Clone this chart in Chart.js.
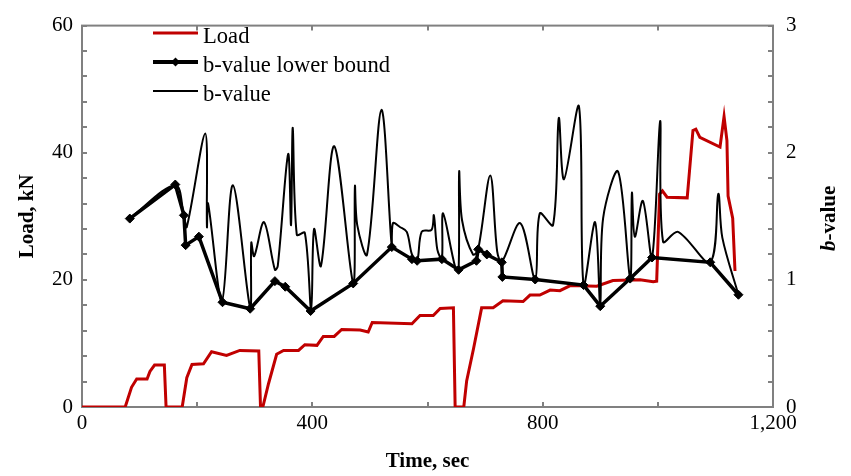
<!DOCTYPE html>
<html>
<head>
<meta charset="utf-8">
<script src="https://cdn.jsdelivr.net/npm/chart.js@4"></script>
<style>
  html, body { margin: 0; padding: 0; background: #fff; }
  canvas { display: block; }
</style>
</head>
<body>
<canvas id="c" width="851" height="476"></canvas>
<script>
// ---- Data ----
const loadTime = [0,75,86,95,113,118,126,143,146,174,182,191,211,225,251,274,307,310,314,324,338,350,376,387,408,419,438,451,483,497,504,573,587,610,622,645,648,663,668,680,694,714,731,766,778,795,813,830,848,894,922,969,992,998,1003,1008,1016,1051,1061,1066,1073,1108,1115,1120,1122,1130,1134];
const loadKN   = [0,0,3.1,4.4,4.4,5.6,6.6,6.6,0,0,4.6,6.7,6.8,8.7,8.1,8.9,8.8,0,0,3.7,8.3,8.9,8.9,9.8,9.7,11.1,11.1,12.2,12.1,11.8,13.3,13.1,14.4,14.4,15.5,15.6,0,0,4.1,9.2,15.6,15.6,16.7,16.6,17.6,17.6,18.4,18.3,19.1,19.0,19.9,20,19.7,19.8,33.5,34,33,32.9,43.5,43.7,42.4,40.9,45.7,41.9,33.2,29.7,21.4];

const bTime  = [83,162,177,182,214,217,219,243,262,292,294,299,316,335,340,358,363,366,373,387,398,403,415,438,471,474,478,495,520,538,540,552,564,573,582,590,607,611,617,625,627,648,654,655,660,679,688,709,721,729,761,787,795,818,828,837,863,871,891,900,905,931,952,955,960,974,990,1004,1009,1035,1091,1105,1112,1140];
const bValue = [1.485,1.745,1.508,1.416,2.151,1.416,1.6,0.834,1.745,0.781,1.293,1.186,1.454,1.079,1.11,1.99,1.431,2.196,1.355,1.37,0.765,1.4,1.11,2.051,0.972,1.737,1.431,1.2,2.337,1.257,1.446,1.416,1.378,1.2,1.15,1.38,1.393,1.508,1.24,1.163,1.523,1.102,1.079,1.852,1.469,1.2,1.24,1.821,1.224,1.14,1.446,1.003,1.523,1.431,2.273,1.791,2.365,0.959,1.454,0.794,1.485,1.852,1.01,1.684,1.339,1.622,1.176,2.25,1.301,1.378,1.138,1.676,1.332,0.882];

const lbTime  = [83,162,177,180,203,244,292,335,353,397,471,538,573,582,625,654,685,688,703,729,730,787,871,900,952,990,1091,1140];
const lbValue = [1.482,1.75,1.508,1.273,1.34,0.824,0.773,0.99,0.946,0.755,0.972,1.258,1.163,1.15,1.163,1.079,1.15,1.24,1.2,1.138,1.023,1.003,0.959,0.793,1.01,1.176,1.138,0.883];

const seriesLabels = ['Load', 'b-value lower bound', 'b-value'];
const xTitle = 'Time, sec';
const yTitle = 'Load, kN';
const y1TitleItalic = 'b';
const y1TitleRest = '-value';

// ---- Helpers ----
const pairs = (xs, ys) => xs.map((x, i) => ({ x: x, y: ys[i] }));
const SERIF = "'Liberation Serif', 'Times New Roman', serif";
const RED = '#c00000';
const GRAY = '#808080';

const framePlugin = {
  id: 'frameTicks',
  beforeDatasetsDraw(chart) {
    const { ctx, chartArea: a, scales } = chart;
    ctx.save();
    ctx.strokeStyle = GRAY;
    ctx.lineWidth = 2;
    ctx.strokeRect(a.left, a.top, a.right - a.left, a.bottom - a.top);
    const L = 5;
    ctx.beginPath();
    scales.x.ticks.forEach(t => {
      const px = Math.round(scales.x.getPixelForValue(t.value));
      ctx.moveTo(px, a.bottom); ctx.lineTo(px, a.bottom - L);
      ctx.moveTo(px, a.top); ctx.lineTo(px, a.top + L);
    });
    scales.y.ticks.forEach(t => {
      const py = Math.round(scales.y.getPixelForValue(t.value));
      ctx.moveTo(a.left, py); ctx.lineTo(a.left + L, py);
    });
    scales.y1.ticks.forEach(t => {
      const py = Math.round(scales.y1.getPixelForValue(t.value));
      ctx.moveTo(a.right, py); ctx.lineTo(a.right - L, py);
    });
    ctx.stroke();
    ctx.restore();
  }
};

const titlesPlugin = {
  id: 'axisTitles',
  afterDraw(chart) {
    const { ctx, chartArea: a } = chart;
    ctx.save();
    ctx.fillStyle = '#000';
    ctx.font = "bold 21px " + SERIF;
    ctx.textAlign = 'center';
    ctx.textBaseline = 'middle';
    ctx.fillText(xTitle, (a.left + a.right) / 2, 462);
    ctx.save();
    ctx.translate(28, (a.top + a.bottom) / 2);
    ctx.rotate(-Math.PI / 2);
    ctx.fillText(yTitle, 0, 0);
    ctx.restore();
    ctx.save();
    ctx.translate(830, (a.top + a.bottom) / 2 + 2);
    ctx.rotate(-Math.PI / 2);
    ctx.font = "italic bold 21px " + SERIF;
    const w1 = ctx.measureText(y1TitleItalic).width;
    ctx.font = "bold 21px " + SERIF;
    const w2 = ctx.measureText(y1TitleRest).width;
    const start = -(w1 + w2) / 2;
    ctx.textAlign = 'left';
    ctx.font = "italic bold 21px " + SERIF;
    ctx.fillText(y1TitleItalic, start, 0);
    ctx.font = "bold 21px " + SERIF;
    ctx.fillText(y1TitleRest, start + w1, 0);
    ctx.restore();
    ctx.restore();
  }
};

const legendPlugin = {
  id: 'customLegend',
  afterDraw(chart) {
    const ctx = chart.ctx;
    const x0 = 153, x1 = 198, tx = 203;
    const rows = [33, 62, 91];
    ctx.save();
    chart.data.datasets.forEach((ds, i) => {
      const y = rows[i];
      ctx.strokeStyle = ds.borderColor;
      ctx.lineWidth = ds.legendLineWidth;
      ctx.beginPath();
      ctx.moveTo(x0, y); ctx.lineTo(x1, y);
      ctx.stroke();
      if (ds.pointRadius > 0) {
        const cx = (x0 + x1) / 2, r = ds.pointRadius;
        ctx.fillStyle = ds.pointBackgroundColor;
        ctx.beginPath();
        ctx.moveTo(cx, y - r); ctx.lineTo(cx + r, y); ctx.lineTo(cx, y + r); ctx.lineTo(cx - r, y);
        ctx.closePath(); ctx.fill();
      }
      ctx.fillStyle = '#000';
      ctx.font = "22.6px " + SERIF;
      ctx.textAlign = 'left';
      ctx.textBaseline = 'alphabetic';
      ctx.fillText(ds.label, tx, y + 9.5);
    });
    ctx.restore();
  }
};

Chart.defaults.font.family = SERIF;
Chart.defaults.color = '#000';

new Chart(document.getElementById('c'), {
  type: 'line',
  data: {
    datasets: [
      {
        label: seriesLabels[0],
        data: pairs(loadTime, loadKN),
        yAxisID: 'y',
        borderColor: RED,
        borderWidth: 3,
        legendLineWidth: 3,
        pointRadius: 0,
        tension: 0,
        order: 3
      },
      {
        label: seriesLabels[1],
        data: pairs(lbTime, lbValue),
        yAxisID: 'y1',
        borderColor: '#000',
        borderWidth: 3.5,
        legendLineWidth: 4,
        pointStyle: 'rectRot',
        pointRadius: 4.5,
        pointBackgroundColor: '#000',
        pointBorderColor: '#000',
        pointBorderWidth: 1,
        tension: 0,
        order: 1
      },
      {
        label: seriesLabels[2],
        data: pairs(bTime, bValue),
        yAxisID: 'y1',
        borderColor: '#000',
        borderWidth: 2,
        legendLineWidth: 2,
        pointRadius: 0,
        tension: 0.33,
        order: 2
      }
    ]
  },
  options: {
    responsive: false,
    animation: false,
    events: [],
    layout: { padding: { top: 15, left: 0, right: 0, bottom: 0 } },
    plugins: { legend: { display: false }, tooltip: { enabled: false } },
    scales: {
      x: {
        type: 'linear',
        position: 'bottom',
        min: 0, max: 1200,
        grid: { display: false, drawTicks: false },
        border: { display: false },
        ticks: {
          stepSize: 200, autoSkip: false, maxRotation: 0, padding: 4,
          font: { size: 21, family: SERIF }, color: '#000',
          callback: v => (v % 400 === 0 ? v.toLocaleString('en-US') : '')
        },
        afterFit: s => { s.height = 69; }
      },
      y: {
        type: 'linear',
        position: 'left',
        min: 0, max: 60,
        grid: { display: false, drawTicks: false },
        border: { display: false },
        ticks: {
          stepSize: 4, autoSkip: false, padding: 9,
          font: { size: 21, family: SERIF }, color: '#000',
          callback: v => (v % 20 === 0 ? String(v) : '')
        },
        afterFit: s => { s.width = 82; }
      },
      y1: {
        type: 'linear',
        position: 'right',
        min: 0, max: 3,
        grid: { display: false, drawTicks: false },
        border: { display: false },
        ticks: {
          stepSize: 0.2, autoSkip: false, padding: 13,
          font: { size: 21, family: SERIF }, color: '#000',
          callback: v => (Math.abs(v - Math.round(v)) < 1e-6 ? String(Math.round(v)) : '')
        },
        afterFit: s => { s.width = 78; }
      }
    }
  },
  plugins: [framePlugin, legendPlugin, titlesPlugin]
});
</script>
</body>
</html>
